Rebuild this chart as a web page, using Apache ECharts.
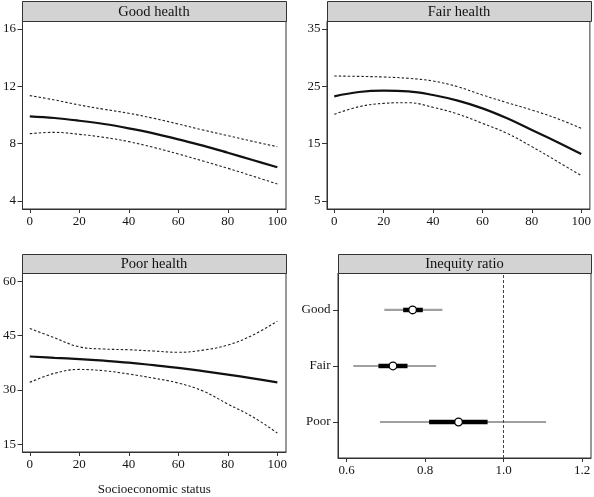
<!DOCTYPE html>
<html>
<head>
<meta charset="utf-8">
<script src="https://cdn.jsdelivr.net/npm/echarts@6/dist/echarts.min.js"></script>
<style>html,body{margin:0;padding:0;background:#fff}#c{width:594px;height:497px}</style>
</head>
<body>
<div id="c"></div>
<script>
// ---- data ----
var xs = [0, 10, 20, 30, 40, 50, 60, 70, 80, 90, 100];
var goodFit   = [9.91, 9.79, 9.60, 9.37, 9.07, 8.72, 8.30, 7.86, 7.37, 6.86, 6.35];
var goodUpper = [11.35, 11.05, 10.70, 10.40, 10.12, 9.77, 9.37, 8.95, 8.56, 8.16, 7.79];
var goodLower = [8.70, 8.79, 8.65, 8.44, 8.14, 7.74, 7.28, 6.79, 6.28, 5.74, 5.19];
var fairFit   = [23.26, 24.01, 24.24, 24.13, 23.49, 22.50, 21.16, 19.42, 17.38, 15.35, 13.20];
var fairUpper = [26.80, 26.74, 26.63, 26.40, 25.93, 24.94, 23.49, 22.15, 20.87, 19.42, 17.67];
var fairLower = [20.12, 21.45, 22.03, 22.15, 21.34, 20.17, 18.55, 16.80, 14.48, 11.98, 9.42];
var poorFit   = [39.23, 38.88, 38.52, 38.08, 37.54, 36.83, 36.11, 35.20, 34.24, 33.20, 32.10];
var poorUpper = [46.99, 44.40, 41.90, 41.30, 41.10, 40.75, 40.40, 41.00, 42.40, 45.10, 49.00];
var poorLower = [32.10, 34.60, 35.67, 35.30, 34.40, 33.26, 31.90, 29.70, 26.10, 22.60, 18.10];

var panelTitles = ['Good health', 'Fair health', 'Poor health', 'Inequity ratio'];
var xTicks = [0, 20, 40, 60, 80, 100];
var goodTicks = [4, 8, 12, 16];
var fairTicks = [5, 15, 25, 35];
var poorTicks = [15, 30, 45, 60];
var ratioTicks = [0.6, 0.8, 1.0, 1.2];

var ratioCats = ['Poor', 'Fair', 'Good'];   // positions 1,2,3
var ratioEst  = [0.885, 0.718, 0.768];
var ratioLo95 = [0.685, 0.617, 0.696];
var ratioHi95 = [1.108, 0.828, 0.844];
var ratioLo50 = [0.810, 0.681, 0.744];
var ratioHi50 = [0.959, 0.755, 0.794];
var refLine = 1.0;
var xTitle = 'Socioeconomic status';

// ---- chart ----
var FONT = '"Liberation Serif", "Times New Roman", serif';
var TXT = '#151515';
var chart = echarts.init(document.getElementById('c'), null, {renderer: 'canvas'});

var grids = [
  {left: 22, top: 21, width: 264, height: 188},
  {left: 327, top: 21, width: 264, height: 188},
  {left: 22, top: 273, width: 264, height: 185},
  {left: 338, top: 273, width: 253, height: 185}
];
grids.forEach(function (g) { g.show = true; g.borderColor = '#333'; g.borderWidth = 1; g.backgroundColor = '#fff'; });

function xAx(i, vals, min, max, fmt, extra) {
  var a = {
    type: 'value', gridIndex: i, min: min, max: max, position: 'bottom',
    axisLine: {show: true, onZero: false, lineStyle: {color: '#333', width: 1}},
    splitLine: {show: false},
    axisTick: {show: true, inside: false, length: 4, customValues: vals, lineStyle: {color: '#333'}},
    axisLabel: {customValues: vals, margin: 6, color: TXT, fontFamily: FONT, fontSize: 13,
      formatter: fmt || function (v) { return String(v); }}
  };
  return Object.assign(a, extra || {});
}
function yAx(i, vals, min, max, fmt) {
  return {
    type: 'value', gridIndex: i, min: min, max: max, position: 'left',
    axisLine: {show: true, onZero: false, lineStyle: {color: '#333', width: 1}},
    splitLine: {show: false},
    axisTick: {show: true, inside: false, length: 5, customValues: vals, lineStyle: {color: '#333'}},
    axisLabel: {customValues: vals, margin: 6.5, color: TXT, fontFamily: FONT, fontSize: 13,
      formatter: fmt || function (v) { return String(v); }}
  };
}

function pairs(y) { return xs.map(function (x, k) { return [x, y[k]]; }); }
function lineSeries(i, y, solid) {
  return {
    type: 'line', xAxisIndex: i, yAxisIndex: i, data: pairs(y), smooth: 0.4,
    showSymbol: false, silent: true, animation: false,
    lineStyle: solid ? {color: '#111', width: 2.2} : {color: '#222', width: 1.1, type: [2.5, 2]}
  };
}

var series = [
  lineSeries(0, goodUpper, false), lineSeries(0, goodLower, false), lineSeries(0, goodFit, true),
  lineSeries(1, fairUpper, false), lineSeries(1, fairLower, false), lineSeries(1, fairFit, true),
  lineSeries(2, poorUpper, false), lineSeries(2, poorLower, false), lineSeries(2, poorFit, true)
];

var ratioData = ratioCats.map(function (c, k) {
  return [ratioLo95[k], ratioHi95[k], ratioLo50[k], ratioHi50[k], ratioEst[k], k + 1];
});

series.push({
  type: 'custom', xAxisIndex: 3, yAxisIndex: 3, data: ratioData, animation: false, silent: true,
  encode: {x: [0, 1, 2, 3, 4], y: 5},
  renderItem: function (params, api) {
    var y = api.value(5);
    var a = api.coord([api.value(0), y]);
    var b = api.coord([api.value(1), y]);
    var c = api.coord([api.value(2), y]);
    var d = api.coord([api.value(3), y]);
    var e = api.coord([api.value(4), y]);
    return {
      type: 'group', children: [
        {type: 'line', shape: {x1: a[0], y1: a[1], x2: b[0], y2: b[1]}, style: {stroke: '#a0a0a0', lineWidth: 2.2}},
        {type: 'line', shape: {x1: c[0], y1: c[1], x2: d[0], y2: d[1]}, style: {stroke: '#000', lineWidth: 4.5}},
        {type: 'circle', shape: {cx: e[0], cy: e[1], r: 3.8}, style: {fill: '#fff', stroke: '#000', lineWidth: 1.3}}
      ]
    };
  },
  markLine: {
    symbol: ['none', 'none'], silent: true, animation: false, label: {show: false},
    lineStyle: {color: '#444', width: 1, type: [3, 2]},
    data: [{xAxis: refLine}]
  }
});

var headers = [
  {x: 22, y: 1, w: 264, h: 20},
  {x: 327, y: 1, w: 264, h: 20},
  {x: 22, y: 254, w: 264, h: 19},
  {x: 338, y: 254, w: 253, h: 19}
];
var graphic = [];
headers.forEach(function (h, k) {
  graphic.push({type: 'rect', shape: {x: h.x + 0.5, y: h.y + 0.5, width: h.w, height: h.h},
    style: {fill: '#d3d3d3', stroke: '#333', lineWidth: 1}, z: 10, silent: true});
  graphic.push({type: 'text', x: h.x + h.w / 2, y: h.y + h.h / 2 + 1,
    style: {text: panelTitles[k], fill: '#111', font: '14.5px "Liberation Serif", serif', align: 'center', verticalAlign: 'middle'},
    z: 11, silent: true});
});

var ratioY = yAx(3, [1, 2, 3], 0.357, 3.66, function (v) { return ratioCats[Math.round(v) - 1] || ''; });
ratioY.axisLabel.margin = 7.5;

chart.setOption({
  animation: false,
  backgroundColor: '#fff',
  grid: grids,
  xAxis: [
    xAx(0, xTicks, -2.94, 103.5),
    xAx(1, xTicks, -2.94, 103.5),
    xAx(2, xTicks, -2.94, 103.5, null, {name: xTitle, nameLocation: 'middle', nameGap: 31,
      nameTextStyle: {color: TXT, fontFamily: FONT, fontSize: 13}}),
    xAx(3, ratioTicks, 0.578, 1.2224, function (v) { return v.toFixed(1); })
  ],
  yAxis: [
    yAx(0, goodTicks, 3.44, 16.56),
    yAx(1, fairTicks, 3.6, 36.4),
    yAx(2, poorTicks, 12.86, 62.3),
    ratioY
  ],
  series: series,
  graphic: graphic
});
</script>
</body>
</html>
